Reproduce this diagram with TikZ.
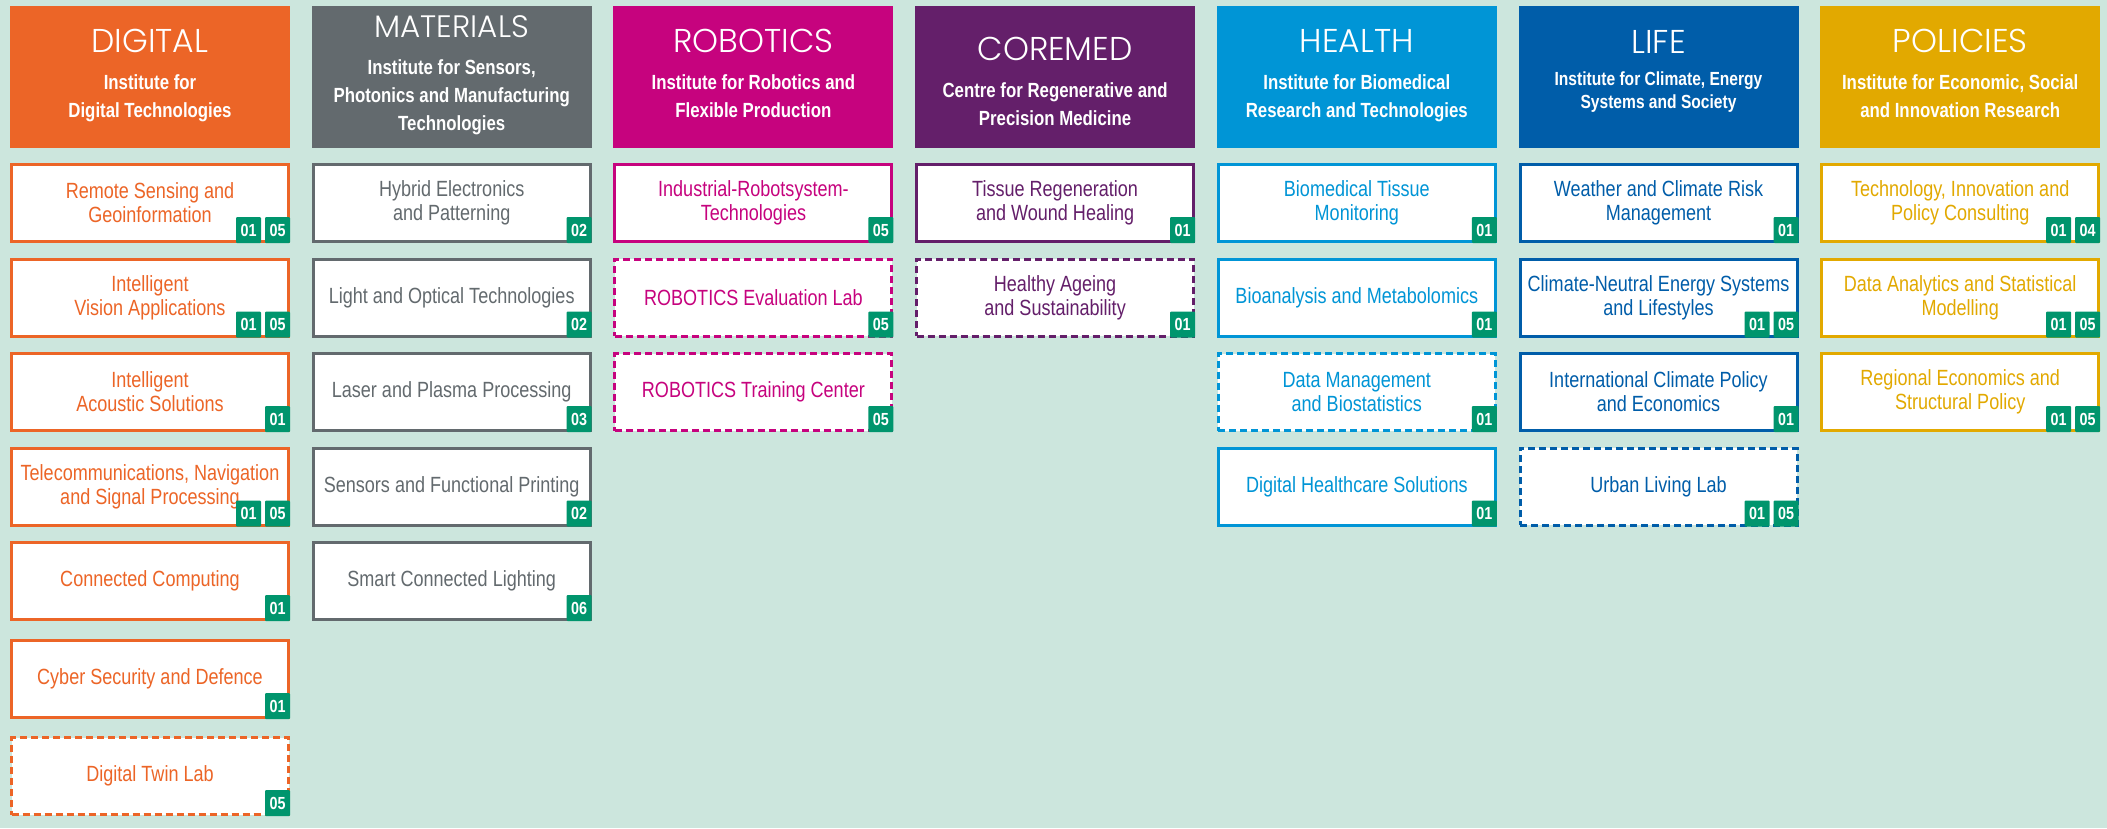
\documentclass[tikz,border=0pt]{standalone}
\usepackage{fontspec}
\setmainfont{Liberation Sans}[FakeStretch=0.82]
\newfontfamily\titlefont{Poppins}[UprightFont=* Light]
\usepackage{tikz}
\usetikzlibrary{positioning}
\definecolor{cbg}{HTML}{CCE6DD}
\definecolor{cdig}{HTML}{EC6527}
\definecolor{cmat}{HTML}{636A6E}
\definecolor{crob}{HTML}{C6037E}
\definecolor{ccor}{HTML}{641F6A}
\definecolor{chea}{HTML}{0095D6}
\definecolor{clif}{HTML}{005DA9}
\definecolor{cpol}{HTML}{E2A900}
\definecolor{cbadge}{HTML}{00956D}

\begin{document}
\begin{tikzpicture}[
            x=1pt, y=1pt,
            node distance=14.5pt,
            head/.style={fill=#1, minimum width=280pt, minimum height=142pt, inner sep=0pt, outer sep=0pt},
            htitle/.style={text=white, font=\titlefont\fontsize{33}{33}\selectfont, inner sep=0pt, anchor=base},
            hsub/.style={text=white, font=\bfseries\fontsize{20.5}{28}\selectfont, align=center, inner sep=0pt},
            box/.style={draw=#1, text=#1, fill=white, line width=3pt, minimum width=277pt, minimum height=77pt,
                        inner sep=0pt, align=center, font=\fontsize{22}{24}\selectfont},
            lab/.style={box=#1, dash pattern=on 7pt off 4pt},
            badge/.style={fill=cbadge, text=white, font=\bfseries\fontsize{17.5}{17.5}\selectfont,
                          minimum width=25pt, minimum height=26pt, inner sep=0pt, outer sep=0pt, rounded corners=1pt}
        ]
            \fill[cbg] (0,0) rectangle (2107,-828);

            % DIGITAL
            \node[head=cdig] (dig) at (150,-77) {};
            \node[htitle] (digt) at (150,-52) {DIGITAL};
            \node[hsub, below=22pt of digt] (digs) {Institute for\\Digital Technologies};
            \node[box=cdig, below=15pt of dig] (dig1) {Remote Sensing and\\Geoinformation};
            \node[box=cdig, below=of dig1] (dig2) {Intelligent\\Vision Applications};
            \node[box=cdig, below=of dig2] (dig3) {Intelligent\\Acoustic Solutions};
            \node[box=cdig, below=of dig3] (dig4) {Telecommunications, Navigation\\and Signal Processing};
            \node[box=cdig, below=of dig4] (dig5) {Connected Computing};
            \node[box=cdig, below=18pt of dig5] (dig6) {Cyber Security and Defence};
            \node[lab=cdig, below=17pt of dig6] (dig7) {Digital Twin Lab};

            \node[badge, anchor=south east] (dig1a) at (dig1.south east) {05};
            \node[badge, left=4pt of dig1a] (dig1b) {01};
            \node[badge, anchor=south east] (dig2a) at (dig2.south east) {05};
            \node[badge, left=4pt of dig2a] (dig2b) {01};
            \node[badge, anchor=south east] (dig3a) at (dig3.south east) {01};
            \node[badge, anchor=south east] (dig4a) at (dig4.south east) {05};
            \node[badge, left=4pt of dig4a] (dig4b) {01};
            \node[badge, anchor=south east] (dig5a) at (dig5.south east) {01};
            \node[badge, anchor=south east] (dig6a) at (dig6.south east) {01};
            \node[badge, anchor=south east] (dig7a) at (dig7.south east) {05};

            % MATERIALS
            \node[head=cmat] (mat) at (451.7,-77) {};
            \node[htitle, font=\titlefont\fontsize{31}{31}\selectfont] (matt) at (451.7,-37) {MATERIALS};
            \node[hsub, below=22pt of matt] (mats) {Institute for Sensors,\\Photonics and Manufacturing\\Technologies};
            \node[box=cmat, below=15pt of mat] (mat1) {Hybrid Electronics\\and Patterning};
            \node[box=cmat, below=of mat1] (mat2) {Light and Optical Technologies};
            \node[box=cmat, below=of mat2] (mat3) {Laser and Plasma Processing};
            \node[box=cmat, below=of mat3] (mat4) {Sensors and Functional Printing};
            \node[box=cmat, below=of mat4] (mat5) {Smart Connected Lighting};

            \node[badge, anchor=south east] (mat1a) at (mat1.south east) {02};
            \node[badge, anchor=south east] (mat2a) at (mat2.south east) {02};
            \node[badge, anchor=south east] (mat3a) at (mat3.south east) {03};
            \node[badge, anchor=south east] (mat4a) at (mat4.south east) {02};
            \node[badge, anchor=south east] (mat5a) at (mat5.south east) {06};

            % ROBOTICS
            \node[head=crob] (rob) at (753.4,-77) {};
            \node[htitle] (robt) at (753.4,-52) {ROBOTICS};
            \node[hsub, below=22pt of robt] (robs) {Institute for Robotics and\\Flexible Production};
            \node[box=crob, below=15pt of rob] (rob1) {Industrial-Robotsystem-\\Technologies};
            \node[lab=crob, below=of rob1] (rob2) {ROBOTICS Evaluation Lab};
            \node[lab=crob, below=of rob2] (rob3) {ROBOTICS Training Center};

            \node[badge, anchor=south east] (rob1a) at (rob1.south east) {05};
            \node[badge, anchor=south east] (rob2a) at (rob2.south east) {05};
            \node[badge, anchor=south east] (rob3a) at (rob3.south east) {05};

            % COREMED
            \node[head=ccor] (cor) at (1055.1,-77) {};
            \node[htitle] (cort) at (1055.1,-60) {COREMED};
            \node[hsub, below=22pt of cort] (cors) {Centre for Regenerative and\\Precision Medicine};
            \node[box=ccor, below=15pt of cor] (cor1) {Tissue Regeneration\\and Wound Healing};
            \node[lab=ccor, below=of cor1] (cor2) {Healthy Ageing\\and Sustainability};

            \node[badge, anchor=south east] (cor1a) at (cor1.south east) {01};
            \node[badge, anchor=south east] (cor2a) at (cor2.south east) {01};

            % HEALTH
            \node[head=chea] (hea) at (1356.8,-77) {};
            \node[htitle] (heat) at (1356.8,-52) {HEALTH};
            \node[hsub, below=22pt of heat] (heas) {Institute for Biomedical\\Research and Technologies};
            \node[box=chea, below=15pt of hea] (hea1) {Biomedical Tissue\\Monitoring};
            \node[box=chea, below=of hea1] (hea2) {Bioanalysis and Metabolomics};
            \node[lab=chea, below=of hea2] (hea3) {Data Management\\and Biostatistics};
            \node[box=chea, below=of hea3] (hea4) {Digital Healthcare Solutions};

            \node[badge, anchor=south east] (hea1a) at (hea1.south east) {01};
            \node[badge, anchor=south east] (hea2a) at (hea2.south east) {01};
            \node[badge, anchor=south east] (hea3a) at (hea3.south east) {01};
            \node[badge, anchor=south east] (hea4a) at (hea4.south east) {01};

            % LIFE
            \node[head=clif] (lif) at (1658.5,-77) {};
            \node[htitle] (lift) at (1658.5,-53) {LIFE};
            \node[hsub, font=\bfseries\fontsize{19}{23}\selectfont, below=18pt of lift] (lifs) {Institute for Climate, Energy\\Systems and Society};
            \node[box=clif, below=15pt of lif] (lif1) {Weather and Climate Risk\\Management};
            \node[box=clif, below=of lif1] (lif2) {Climate-Neutral Energy Systems\\and Lifestyles};
            \node[box=clif, below=of lif2] (lif3) {International Climate Policy\\and Economics};
            \node[lab=clif, below=of lif3] (lif4) {Urban Living Lab};

            \node[badge, anchor=south east] (lif1a) at (lif1.south east) {01};
            \node[badge, anchor=south east] (lif2a) at (lif2.south east) {05};
            \node[badge, left=4pt of lif2a] (lif2b) {01};
            \node[badge, anchor=south east] (lif3a) at (lif3.south east) {01};
            \node[badge, anchor=south east] (lif4a) at (lif4.south east) {05};
            \node[badge, left=4pt of lif4a] (lif4b) {01};

            % POLICIES
            \node[head=cpol] (pol) at (1960.2,-77) {};
            \node[htitle] (polt) at (1960.2,-52) {POLICIES};
            \node[hsub, below=22pt of polt] (pols) {Institute for Economic, Social\\and Innovation Research};
            \node[box=cpol, below=15pt of pol] (pol1) {Technology, Innovation and\\Policy Consulting};
            \node[box=cpol, below=of pol1] (pol2) {Data Analytics and Statistical\\Modelling};
            \node[box=cpol, below=of pol2] (pol3) {Regional Economics and\\Structural Policy};

            \node[badge, anchor=south east] (pol1a) at (pol1.south east) {04};
            \node[badge, left=4pt of pol1a] (pol1b) {01};
            \node[badge, anchor=south east] (pol2a) at (pol2.south east) {05};
            \node[badge, left=4pt of pol2a] (pol2b) {01};
            \node[badge, anchor=south east] (pol3a) at (pol3.south east) {05};
            \node[badge, left=4pt of pol3a] (pol3b) {01};

        \end{tikzpicture}
\end{document}
